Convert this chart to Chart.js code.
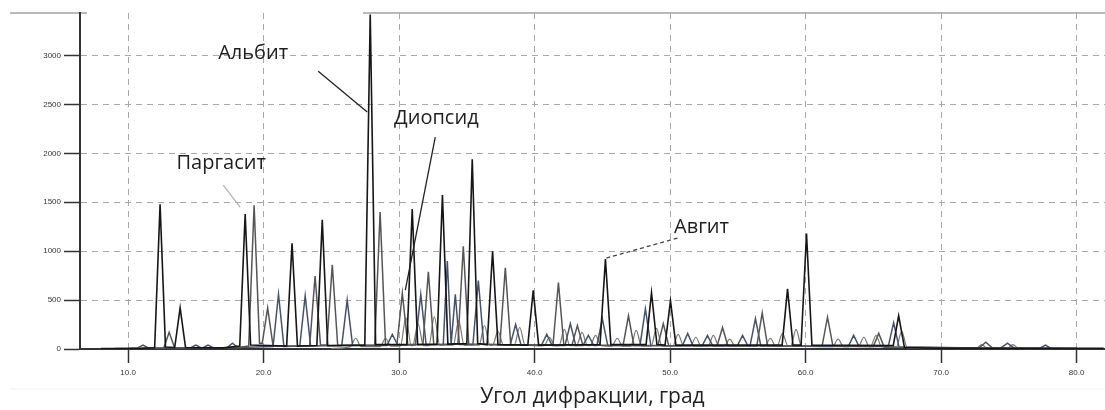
<!DOCTYPE html>
<html lang="ru">
<head>
<meta charset="utf-8">
<script src="https://cdn.jsdelivr.net/npm/chart.js@4.4.1/dist/chart.umd.min.js"></script>
<style>
  html, body { margin: 0; padding: 0; background: #ffffff; }
  #wrap { width: 1105px; height: 410px; position: relative; }
</style>
</head>
<body>
<div id="wrap"><canvas id="c"></canvas></div>
<script>
// ---- data (2θ in degrees, intensity in counts) ----
const xTickValues = [10, 20, 30, 40, 50, 60, 70, 80];
const xTickLabels = ["10.0", "20.0", "30.0", "40.0", "50.0", "60.0", "70.0", "80.0"];
const yTickValues = [0, 500, 1000, 1500, 2000, 2500, 3000];
const yTickLabels = ["0", "500", "1000", "1500", "2000", "2500", "3000"];

const angles1 = [8.0, 11.0,
  11.96, 12.36, 12.76,  13.44, 13.84, 14.24,  17.0,
  18.24, 18.64, 19.04,  21.7, 22.1, 22.5,  23.93, 24.33, 24.73,
  27.47, 27.87, 28.27,  30.57, 30.97, 31.37,  32.8, 33.2, 33.6,
  35.0, 35.4, 35.8,  36.5, 36.9, 37.3,  39.5, 39.9, 40.3,
  44.83, 45.23, 45.63,  48.23, 48.63, 49.03,  49.63, 50.03, 50.43,
  58.27, 58.67, 59.07,  59.67, 60.07, 60.47,  66.47, 66.87, 67.3,
  70.0, 82.0];
const counts1 = [5, 8,
  12, 1480, 20,  15, 420, 15,  12,
  30, 1380, 40,  30, 1080, 30,  35, 1320, 35,
  40, 3420, 45,  45, 1430, 45,  50, 1575, 50,
  55, 1940, 55,  45, 1000, 45,  40, 600, 40,
  45, 920, 45,  45, 575, 45,  40, 495, 40,
  40, 615, 40,  40, 1180, 40,  35, 340, 15,
  8, 8];

const angles2 = [9.0,
  12.63, 13.03, 13.43,  18.0,
  18.9, 19.3, 19.7,  19.9, 20.3, 20.7,  23.4, 23.8, 24.2,
  24.67, 25.07, 25.47,  28.2, 28.6, 29.0,  29.84, 30.24, 30.64,
  31.76, 32.16, 32.56,  34.34, 34.74, 35.14,  37.44, 37.84, 38.24,
  41.36, 41.76, 42.16,  42.76, 43.16, 43.56,  46.53, 46.93, 47.33,
  49.1, 49.5, 49.9,  53.47, 53.87, 54.27,  56.4, 56.8, 57.2,
  61.22, 61.62, 62.02,  65.0, 65.4, 65.8,  72.8, 73.3, 73.8,
  80.0];
const counts2 = [5,
  10, 170, 12,  12,
  30, 1470, 60,  60, 420, 30,  30, 745, 40,
  40, 860, 35,  40, 1400, 45,  40, 570, 45,
  45, 790, 45,  50, 1050, 50,  45, 830, 45,
  40, 680, 40,  40, 240, 40,  35, 340, 35,
  35, 260, 35,  30, 220, 30,  30, 370, 30,
  30, 325, 30,  25, 160, 20,  10, 70, 10,
  8];

const angles3 = [10.0,
  10.7, 11.1, 11.5,  14.6, 15.0, 15.4,  15.5, 15.9, 16.3,  17.3, 17.7, 18.1,
  20.7, 21.1, 21.5,  22.67, 23.07, 23.47,  25.77, 26.17, 26.57,
  29.1, 29.5, 29.9,  31.2, 31.6, 32.0,  33.26, 33.56, 33.84,
  33.87, 34.15, 34.45,  35.45, 35.85, 36.25,  38.2, 38.6, 39.0,
  40.5, 40.9, 41.3,  42.24, 42.64, 43.04,  43.57, 43.97, 44.37,
  44.6, 45.0, 45.4,  47.78, 48.18, 48.58,  50.9, 51.3, 51.7,
  52.36, 52.76, 53.16,  54.95, 55.35, 55.75,  55.9, 56.3, 56.7,
  63.15, 63.55, 63.95,  66.1, 66.5, 66.9,  74.4, 74.9, 75.4,
  77.3, 77.7, 78.1,
  79.0];
const counts3 = [5,
  10, 40, 10,  10, 40, 10,  10, 40, 10,  12, 60, 15,
  25, 560, 25,  30, 545, 30,  35, 500, 35,
  35, 150, 40,  40, 560, 40,  45, 900, 50,
  50, 560, 45,  45, 700, 45,  40, 250, 40,
  35, 150, 35,  35, 260, 35,  35, 140, 35,
  35, 310, 35,  35, 410, 35,  30, 160, 30,
  30, 140, 30,  30, 140, 30,  30, 310, 30,
  25, 140, 25,  25, 270, 20,  8, 60, 8,
  8, 40, 8,
  5];

const angles4 = [25.0,
  26.4, 26.8, 27.2,  28.6, 29.0, 29.4,  30.1, 30.5, 30.9,  31.0, 31.4, 31.8,
  32.2, 32.6, 33.0,  34.0, 34.4, 34.8,  35.9, 36.3, 36.7,  36.9, 37.3, 37.7,
  38.5, 38.9, 39.3,  40.7, 41.1, 41.5,  41.8, 42.2, 42.6,  43.1, 43.5, 43.9,
  44.1, 44.5, 44.9,  45.7, 46.1, 46.5,  47.1, 47.5, 47.9,  48.6, 49.0, 49.4,
  50.2, 50.6, 51.0,  51.5, 51.9, 52.3,  52.8, 53.2, 53.6,  54.0, 54.4, 54.8,
  57.0, 57.4, 57.8,  57.9, 58.3, 58.7,  58.9, 59.3, 59.7,  62.0, 62.4, 62.8,
  63.9, 64.3, 64.7,  64.8, 65.2, 65.6,  66.7, 67.1, 67.5,  72.6, 73.0, 73.4,
  74.9, 75.3, 75.7,
  77.0];
const counts4 = [5,
  25, 110, 25,  25, 110, 30,  30, 320, 35,  35, 260, 35,
  35, 330, 40,  40, 290, 40,  40, 240, 40,  40, 180, 40,
  40, 220, 40,  35, 120, 35,  35, 200, 35,  35, 170, 35,
  35, 140, 35,  30, 110, 30,  30, 190, 30,  30, 210, 30,
  30, 150, 30,  30, 120, 30,  30, 140, 30,  30, 100, 30,
  30, 110, 30,  30, 160, 30,  30, 200, 30,  25, 100, 25,
  25, 120, 25,  25, 140, 25,  20, 180, 10,  8, 45, 8,
  8, 45, 8,
  5];

const seriesNames = ["Образец 1", "Образец 2", "Образец 3", "Образец 4"];
const xTitle = "Угол дифракции, град";

// labels for minerals: text, text centre (angle, counts), leader line from/to (angle, counts)
const mineralLabels = ["Альбит", "Паргасит", "Диопсид", "Авгит"];
const labelAnchors = [[19.23, 3025], [16.87, 1900], [32.75, 2360], [52.32, 1245]];
const leaderFrom = [[24.03, 2840], [17.02, 1676], [32.67, 2167], [50.55, 1134]];
const leaderTo = [[27.65, 2422], [18.27, 1451], [30.46, 603], [45.3, 930]];

// ---- styles ----
const lineColors = ["#161616", "#555555", "#465170", "#7a7a6c"];
const lineWidths = [1.6, 1.5, 1.5, 1.2];
const smooth = [false, false, false, true];
const leaderColors = ["#222222", "#b5b5b5", "#222222", "#444444"];
const leaderDash = [[], [], [], [4, 3]];

function toPoints(xs, ys) { return xs.map((x, i) => ({ x: x, y: ys[i] })); }

const datasets = [
  [angles1, counts1], [angles2, counts2], [angles3, counts3], [angles4, counts4]
].map((pair, i) => ({
  label: seriesNames[i],
  data: toPoints(pair[0], pair[1]),
  borderColor: lineColors[i],
  borderWidth: lineWidths[i],
  pointRadius: 0,
  tension: 0,
  cubicInterpolationMode: smooth[i] ? 'monotone' : 'default',
  fill: false
}));

const decorPlugin = {
  id: 'decor',
  beforeDraw(chart) {
    const { ctx, chartArea } = chart;
    ctx.save();
    ctx.strokeStyle = '#b9b9b9';
    ctx.lineWidth = 2;
    ctx.beginPath();
    ctx.moveTo(10, chartArea.top); ctx.lineTo(chartArea.left + 7, chartArea.top);
    ctx.moveTo(363, chartArea.top); ctx.lineTo(chartArea.right, chartArea.top);
    ctx.stroke();
    ctx.strokeStyle = '#f0f0f0';
    ctx.lineWidth = 1;
    ctx.beginPath();
    ctx.moveTo(10, 389); ctx.lineTo(chart.width, 389);
    ctx.stroke();
    ctx.restore();
  },
  afterDatasetsDraw(chart) {
    const { ctx, scales } = chart;
    const xs = scales.x, ys = scales.y;
    ctx.save();
    mineralLabels.forEach((txt, i) => {
      ctx.beginPath();
      ctx.setLineDash(leaderDash[i]);
      ctx.strokeStyle = leaderColors[i];
      ctx.lineWidth = 1.3;
      ctx.moveTo(xs.getPixelForValue(leaderFrom[i][0]), ys.getPixelForValue(leaderFrom[i][1]));
      ctx.lineTo(xs.getPixelForValue(leaderTo[i][0]), ys.getPixelForValue(leaderTo[i][1]));
      ctx.stroke();
      ctx.setLineDash([]);
      ctx.fillStyle = '#1e1e1e';
      ctx.font = '20px "Open Sans", "Noto Sans", sans-serif';
      ctx.textAlign = 'center';
      ctx.textBaseline = 'middle';
      ctx.fillText(txt, xs.getPixelForValue(labelAnchors[i][0]), ys.getPixelForValue(labelAnchors[i][1]));
    });
    ctx.restore();
  }
};

new Chart(document.getElementById('c'), {
  type: 'line',
  data: { datasets: datasets },
  plugins: [decorPlugin],
  options: {
    responsive: true,
    maintainAspectRatio: false,
    animation: false,
    layout: { padding: { top: 13, left: 0, right: 0, bottom: 0 } },
    plugins: { legend: { display: false }, tooltip: { enabled: false } },
    scales: {
      x: {
        type: 'linear',
        min: 6.45,
        max: 82.1,
        afterFit(scale) { scale.height = 61; },
        afterBuildTicks(scale) { scale.ticks = xTickValues.map(v => ({ value: v })); },
        ticks: {
          autoSkip: false,
          maxRotation: 0,
          padding: 5,
          color: '#333',
          font: { size: 8, family: 'Liberation Sans' },
          callback(value) { const k = xTickValues.indexOf(value); return k >= 0 ? xTickLabels[k] : ''; }
        },
        grid: {
          color: '#a8a8a8',
          lineWidth: 1,
          tickColor: '#333',
          tickWidth: 1.5,
          tickLength: 14
        },
        border: { display: true, color: '#333', width: 2, dash: [6, 5] },
        title: {
          display: true,
          text: xTitle,
          color: '#222',
          font: { size: 21, family: '"Open Sans", "Noto Sans", sans-serif' },
          padding: { top: 0, bottom: 0 }
        }
      },
      y: {
        type: 'linear',
        min: 0,
        max: 3435,
        afterFit(scale) { scale.width = 80; },
        afterBuildTicks(scale) { scale.ticks = yTickValues.map(v => ({ value: v })); },
        ticks: {
          padding: 3,
          color: '#333',
          font: { size: 8, family: 'Liberation Sans' },
          callback(value) { const k = yTickValues.indexOf(value); return k >= 0 ? yTickLabels[k] : ''; }
        },
        grid: {
          color: '#a8a8a8',
          lineWidth: 1,
          tickColor: '#333',
          tickWidth: 1.5,
          tickLength: 16
        },
        border: { display: true, color: '#333', width: 2, dash: [6, 5] }
      }
    }
  }
});
</script>
</body>
</html>
